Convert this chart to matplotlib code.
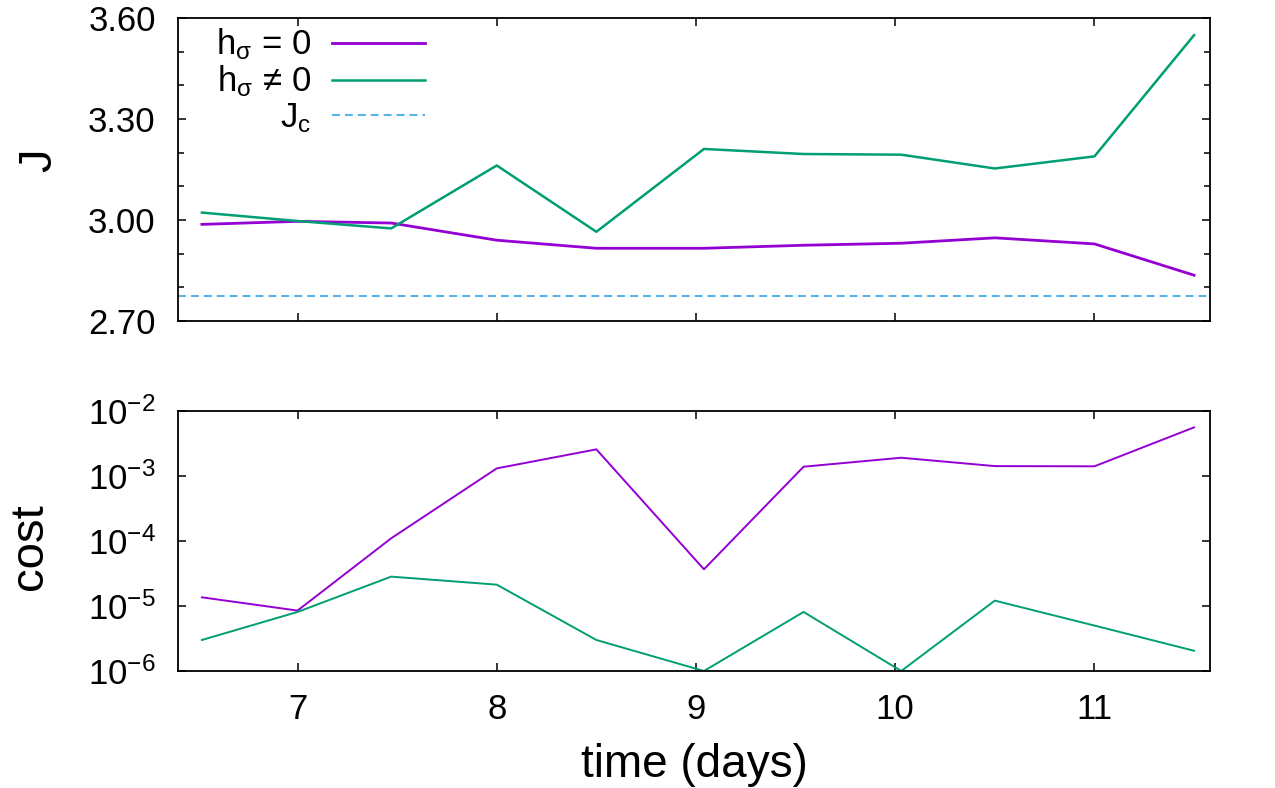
import numpy as np
import matplotlib
matplotlib.use("Agg")
import matplotlib.pyplot as plt
from matplotlib.ticker import MultipleLocator, FormatStrFormatter, LogLocator, LogFormatterSciNotation, NullLocator

# =========================
# DATA
# =========================
days = [6.52, 7.0, 7.47, 8.0, 8.5, 9.04, 9.54, 10.03, 10.5, 11.0, 11.5]

J_h0 = [2.987, 2.996, 2.991, 2.940, 2.916, 2.916, 2.925, 2.931, 2.947, 2.929, 2.836]
J_hn = [3.022, 2.997, 2.975, 3.162, 2.965, 3.211, 3.196, 3.194, 3.153, 3.189, 3.549]
J_c = 2.775

cost_h0 = [1.36e-5, 8.5e-6, 1.1e-4, 1.31e-3, 2.57e-3, 3.67e-5, 1.39e-3, 1.91e-3, 1.42e-3, 1.41e-3, 5.6e-3]
cost_hn = [3.0e-6, 8.1e-6, 2.83e-5, 2.13e-5, 3.0e-6, 1.0e-6, 8.1e-6, 1.0e-6, 1.21e-5, 5.0e-6, 2.05e-6]

labels = [r"h$_\mathregular{σ}$ = 0", r"h$_\mathregular{σ}$ ≠ 0", r"J$_\mathregular{c}$"]

purple = "#9400D3"
green = "#009E73"
blue = "#56B4E9"

# =========================
# STYLE
# =========================
plt.rcParams["font.family"] = ["Liberation Sans", "DejaVu Sans"]
plt.rcParams["mathtext.default"] = "regular"
plt.rcParams["axes.unicode_minus"] = False
plt.rcParams["axes.linewidth"] = 1.3

fig = plt.figure(figsize=(12.75, 7.88), dpi=100)

L, R = 178 / 1275, 1210 / 1275
ax1 = fig.add_axes([L, 1 - 321 / 788, R - L, (321 - 18) / 788])
ax2 = fig.add_axes([L, 1 - 671 / 788, R - L, (671 - 411) / 788])


def style(ax):
    ax.tick_params(which="both", direction="in", top=True, right=True,
                   labelsize=25, pad=16, width=1.1)
    ax.tick_params(which="major", length=6)
    ax.tick_params(which="minor", length=4)
    ax.set_xlim(6.4, 11.58)
    ax.xaxis.set_major_locator(MultipleLocator(1))


# =========================
# TOP: J
# =========================
style(ax1)
ax1.plot(days, J_h0, color=purple, lw=2.0, label=labels[0])
ax1.plot(days, J_hn, color=green, lw=1.8, label=labels[1])
ax1.axhline(J_c, color=blue, lw=1.5, dashes=(3.8, 2.4), label=labels[2])
ax1.set_ylim(2.70, 3.60)
ax1.yaxis.set_major_locator(MultipleLocator(0.3))
ax1.yaxis.set_minor_locator(MultipleLocator(0.1))
ax1.yaxis.set_major_formatter(FormatStrFormatter("%.2f"))
ax1.tick_params(axis="x", labelbottom=False)
ax1.set_ylabel("J", fontsize=34)
ax1.yaxis.set_label_coords(-0.113, 0.53)

leg = ax1.legend(loc="upper right", bbox_to_anchor=((434 - 178) / 1032, 1.0),
                 markerfirst=False, frameon=False, fontsize=25,
                 handlelength=2.7, handletextpad=0.6, labelspacing=0.04,
                 borderpad=0.25, borderaxespad=0.0)

# =========================
# BOTTOM: cost
# =========================
style(ax2)
ax2.plot(days, cost_h0, color=purple, lw=1.4)
ax2.plot(days, cost_hn, color=green, lw=1.4)
ax2.set_yscale("log")
ax2.set_ylim(1e-6, 1e-2)
ax2.yaxis.set_major_locator(LogLocator(base=10, numticks=10))
ax2.yaxis.set_major_formatter(LogFormatterSciNotation())
ax2.yaxis.set_minor_locator(NullLocator())
ax2.set_ylabel("cost", fontsize=34)
ax2.yaxis.set_label_coords(-0.122, 0.48)
ax2.set_xlabel("time (days)", fontsize=33, labelpad=12)

fig.savefig("out.png", dpi=100)
